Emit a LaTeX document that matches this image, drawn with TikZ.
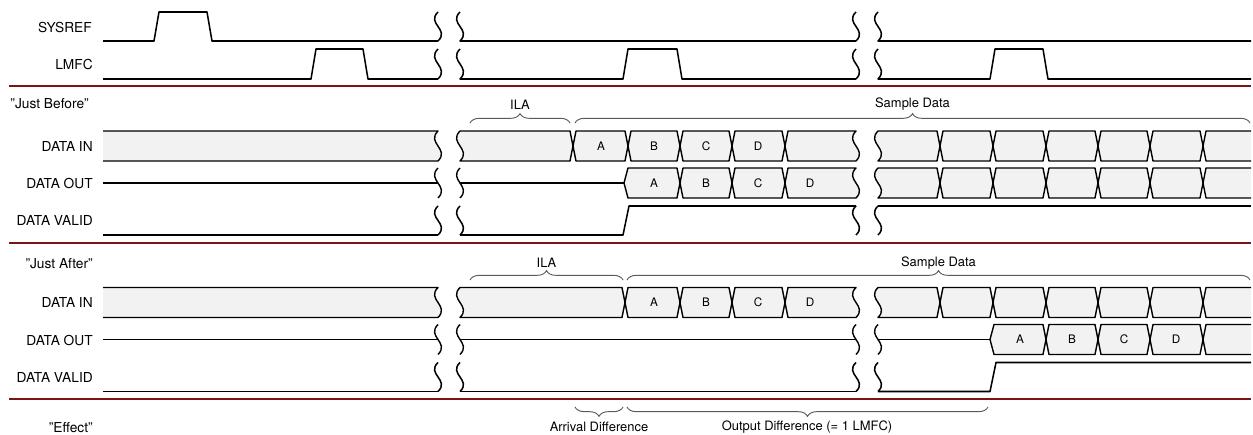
\documentclass[tikz,border=0pt]{standalone}
\usepackage{fontspec}
\setmainfont{TeX Gyre Heros}
\usetikzlibrary{decorations.pathreplacing}
\definecolor{busfill}{HTML}{F2F2F2}
\definecolor{sepred}{HTML}{7B1414}
\definecolor{bracegray}{HTML}{5A5A5A}
% break curve from (x,top) down to (x,bottom)
\newcommand{\brkd}[3]{(#1,#2) .. controls ({#1-12},{#2+0.4*(#3-#2)}) and ({#1+12},{#2+0.6*(#3-#2)}) .. (#1,#3)}
% data cell between two crossovers
\newcommand{\xcell}[4]{(#1,{(#3+#4)/2}) -- ({#1+3},#3) -- ({#2-3},#3) -- (#2,{(#3+#4)/2}) -- ({#2-3},#4) -- ({#1+3},#4) -- cycle}
% cell from crossover to a break
\newcommand{\xbrk}[4]{(#1,{(#3+#4)/2}) -- ({#1+3},#3) -- \brkd{#2}{#3}{#4} -- ({#1+3},#4) -- cycle}
% cell from a break to crossover
\newcommand{\bxcell}[4]{\brkd{#1}{#3}{#4} -- ({#2-3},#4) -- (#2,{(#3+#4)/2}) -- ({#2-3},#3) -- cycle}
% open last cell
\newcommand{\xopen}[3]{%
  \fill[busfill] (#1,{(#2+#3)/2}) -- ({#1+3},#2) -- (1251,#2) -- (1251,#3) -- ({#1+3},#3) -- cycle;
  \draw[busline] (1251,#2) -- ({#1+3},#2) -- (#1,{(#2+#3)/2}) -- ({#1+3},#3) -- (1251,#3);}
% full right half of a data bus (break start at 878 to open end)
\newcommand{\rightbus}[2]{%
  \draw[busline,fill=busfill] \bxcell{878}{940}{#1}{#2};
  \foreach \ca/\cb in {940/993,993/1046,1046/1098,1098/1150,1150/1203}
    \draw[busline,fill=busfill] \xcell{\ca}{\cb}{#1}{#2};
  \xopen{1203}{#1}{#2}}
\begin{document}
\begin{tikzpicture}[x=0.75pt,y=-0.75pt,
  sig/.style={line width=1.15pt,line join=round},
  busline/.style={line width=1.05pt,line join=round},
  sepline/.style={draw=sepred,line width=1.4pt},
  lbl/.style={anchor=east,inner sep=0pt,font=\fontsize{10.3}{12}\selectfont},
  cellt/.style={inner sep=0pt,font=\fontsize{8.8}{10}\selectfont},
  brlbl/.style={inner sep=0pt,font=\fontsize{9.7}{11}\selectfont},
  brc/.style={draw=bracegray,line width=0.7pt,decorate,decoration={brace,amplitude=7pt}},
  brcm/.style={draw=bracegray,line width=0.7pt,decorate,decoration={brace,amplitude=7pt,mirror}}]
\useasboundingbox (0,0) rectangle (1253,435);

% ---------------- labels ----------------
\node[lbl] (lsys) at (92,27) {SYSREF};
\node[lbl] (llmfc) at (93,64) {LMFC};
\node[lbl] (ljb) at (89,104) {"Just Before"};
\node[lbl] (ljbin) at (93,146) {DATA IN};
\node[lbl] (ljbout) at (93,183) {DATA OUT};
\node[lbl] (ljbval) at (93,220) {DATA VALID};
\node[lbl] (lja) at (93,264) {"Just After"};
\node[lbl] (ljain) at (93,302) {DATA IN};
\node[lbl] (ljaout) at (93,340) {DATA OUT};
\node[lbl] (ljaval) at (93,377) {DATA VALID};
\node[lbl] (leff) at (93,428) {"Effect"};

% ---------------- SYSREF / LMFC ----------------
\draw[sig] (103,41) -- (154,41) -- (159,12) -- (207,12) -- (212,41) -- (438,41);
\draw[sig] \brkd{438}{12}{41};
\draw[sig] \brkd{460}{12}{41} -- (856,41);
\draw[sig] \brkd{856}{12}{41};
\draw[sig] \brkd{878}{12}{41} -- (1251,41);

\draw[sig] (103,79) -- (311,79) -- (316,49) -- (363,49) -- (368,79) -- (438,79);
\draw[sig] \brkd{438}{49}{79};
\draw[sig] \brkd{460}{49}{79} -- (623,79) -- (628,49) -- (677,49) -- (682,79) -- (856,79);
\draw[sig] \brkd{856}{49}{79};
\draw[sig] \brkd{878}{49}{79} -- (990,79) -- (995,49) -- (1043,49) -- (1048,79) -- (1251,79);

\draw[sepline] (9,86) -- (1251,86);

% ---------------- Just Before ----------------
% DATA IN
\fill[busfill] (103,131) -- \brkd{438}{131}{161} -- (103,161) -- cycle;
\draw[busline] (103,131) -- \brkd{438}{131}{161} -- (103,161);
\draw[busline,fill=busfill] \bxcell{460}{573}{131}{161};
\foreach \ca/\cb in {573/628,628/680,680/732,732/785}
  \draw[busline,fill=busfill] \xcell{\ca}{\cb}{131}{161};
\draw[busline,fill=busfill] \xbrk{785}{856}{131}{161};
\rightbus{131}{161}
\node[cellt] (jbinA) at (601,146) {A};
\node[cellt] (jbinB) at (654,146) {B};
\node[cellt] (jbinC) at (706,146) {C};
\node[cellt] (jbinD) at (758,146) {D};

% DATA OUT
\draw[sig] (103,183) -- (438,183);
\draw[busline] \brkd{438}{168}{198};
\draw[busline] \brkd{460}{168}{198};
\draw[sig] (460,183) -- (624,183);
\draw[busline,fill=busfill] (624,183) -- (628,168) -- (677,168) -- (680,183) -- (677,198) -- (628,198) -- cycle;
\foreach \ca/\cb in {680/732,732/785}
  \draw[busline,fill=busfill] \xcell{\ca}{\cb}{168}{198};
\draw[busline,fill=busfill] \xbrk{785}{856}{168}{198};
\rightbus{168}{198}
\node[cellt] (jboutA) at (654,183) {A};
\node[cellt] (jboutB) at (706,183) {B};
\node[cellt] (jboutC) at (758,183) {C};
\node[cellt] (jboutD) at (810,183) {D};

% DATA VALID
\draw[sig] (103,235) -- (438,235);
\draw[sig] \brkd{438}{206}{235};
\draw[sig] \brkd{460}{206}{235};
\draw[sig] (460,235) -- (623,235) -- (629,206) -- (856,206);
\draw[sig] \brkd{856}{206}{235};
\draw[sig] \brkd{878}{206}{235};
\draw[sig] (878,206) -- (1251,206);

% braces
\draw[brc] (470,123) -- (570,123);
\node[brlbl] (jbila) at (520,105) {ILA};
\draw[brc] (575,123) -- (1250,123);
\node[brlbl] (jbsd) at (912.5,104) {Sample Data};

\draw[sepline] (9,243) -- (1251,243);

% ---------------- Just After ----------------
% DATA IN
\fill[busfill] (103,287.5) -- \brkd{438}{287.5}{317.5} -- (103,317.5) -- cycle;
\draw[busline] (103,287.5) -- \brkd{438}{287.5}{317.5} -- (103,317.5);
\draw[busline,fill=busfill] \bxcell{460}{625}{287.5}{317.5};
\foreach \ca/\cb in {625/680,680/732,732/785}
  \draw[busline,fill=busfill] \xcell{\ca}{\cb}{287.5}{317.5};
\draw[busline,fill=busfill] \xbrk{785}{856}{287.5}{317.5};
\rightbus{287.5}{317.5}
\node[cellt] (jainA) at (654,302.5) {A};
\node[cellt] (jainB) at (706,302.5) {B};
\node[cellt] (jainC) at (758,302.5) {C};
\node[cellt] (jainD) at (810,302.5) {D};

% DATA OUT
\draw[sig] (103,339.5) -- (438,339.5);
\draw[busline] \brkd{438}{324.5}{354.5};
\draw[busline] \brkd{460}{324.5}{354.5};
\draw[sig] (460,339.5) -- (856,339.5);
\draw[busline] \brkd{856}{324.5}{354.5};
\draw[busline] \brkd{878}{324.5}{354.5};
\draw[sig] (878,339.5) -- (990,339.5);
\draw[busline,fill=busfill] (990,339.5) -- (994,324.5) -- (1043,324.5) -- (1046,339.5) -- (1043,354.5) -- (994,354.5) -- cycle;
\foreach \ca/\cb in {1046/1098,1098/1150,1150/1203}
  \draw[busline,fill=busfill] \xcell{\ca}{\cb}{324.5}{354.5};
\xopen{1203}{324.5}{354.5}
\node[cellt] (jaoutA) at (1020,339.5) {A};
\node[cellt] (jaoutB) at (1072,339.5) {B};
\node[cellt] (jaoutC) at (1124,339.5) {C};
\node[cellt] (jaoutD) at (1176,339.5) {D};

% DATA VALID
\draw[sig] (103,391.5) -- (438,391.5);
\draw[sig] \brkd{438}{362.5}{391.5};
\draw[sig] \brkd{460}{362.5}{391.5};
\draw[sig] (460,391.5) -- (856,391.5);
\draw[sig] \brkd{856}{362.5}{391.5};
\draw[sig] \brkd{878}{362.5}{391.5};
\draw[sig] (878,391.5) -- (990,391.5) -- (996,362.5) -- (1251,362.5);

% braces
\draw[brc] (470,280) -- (623,280);
\node[brlbl] (jaila) at (546.5,263) {ILA};
\draw[brc] (627,280) -- (1250,280);
\node[brlbl] (jasd) at (938.5,263) {Sample Data};

\draw[sepline] (9,399) -- (1251,399);

% ---------------- Effect ----------------
\draw[brcm] (575,407) -- (623,407);
\node[brlbl] (arr) at (599,427) {Arrival Difference};
\draw[brcm] (627,407) -- (988,407);
\node[brlbl] (outd) at (807,427) {Output Difference (= 1 LMFC)};
\end{tikzpicture}
\end{document}
